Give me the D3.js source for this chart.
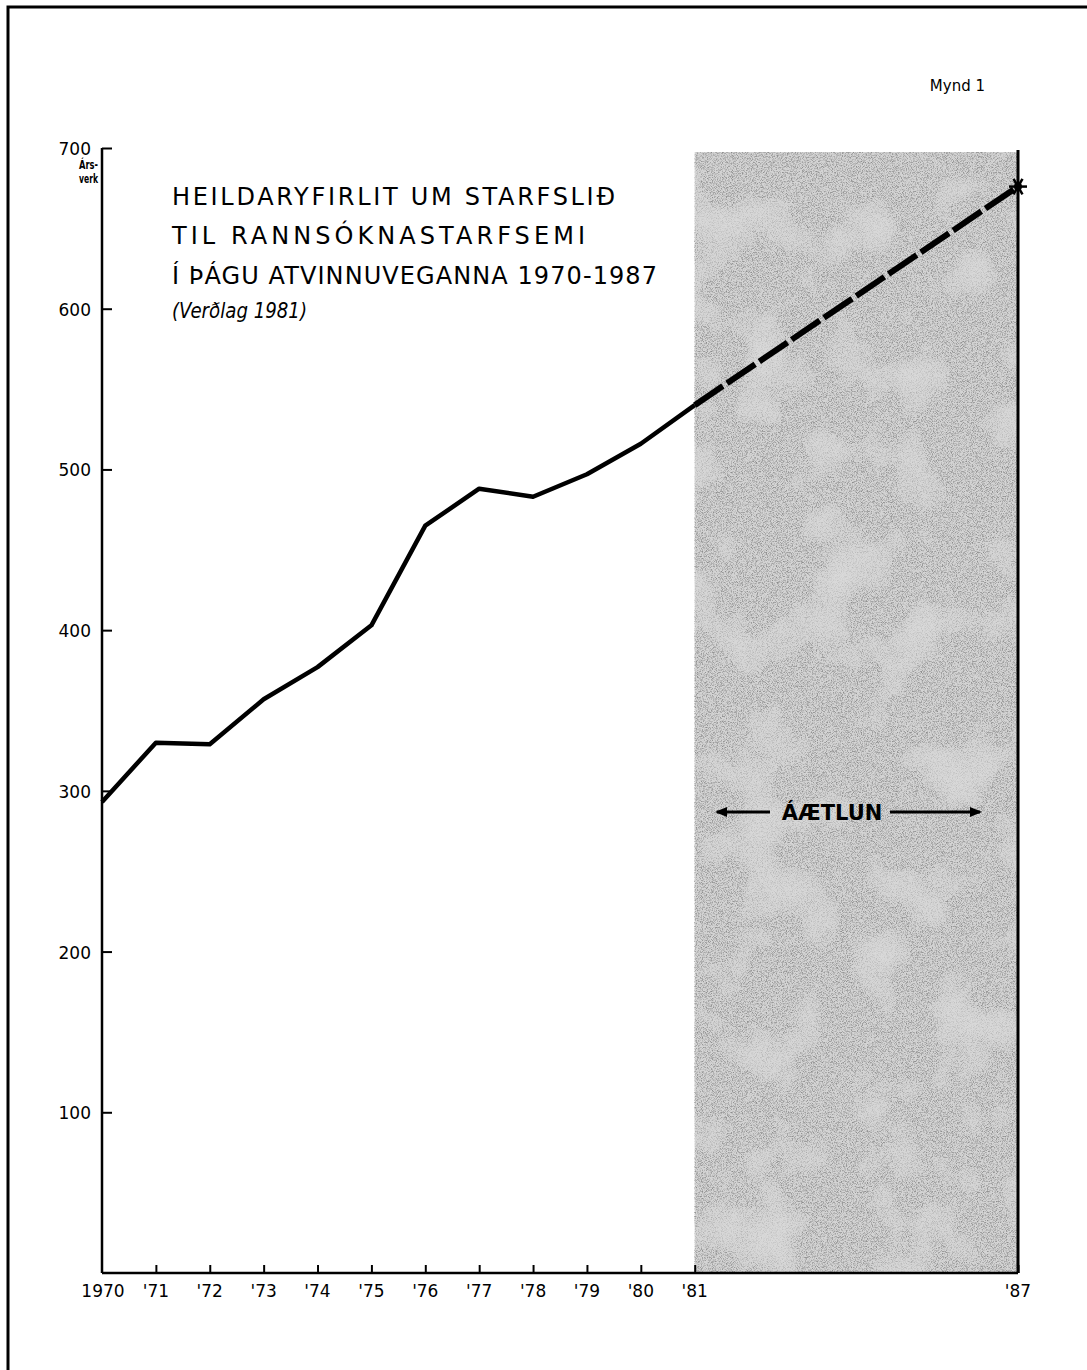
<!DOCTYPE html>
<html>
<head>
<meta charset="utf-8">
<script src="https://cdn.jsdelivr.net/npm/d3@7"></script>
<style>
  html, body { margin: 0; padding: 0; background: #fff; }
  svg { display: block; }
</style>
</head>
<body>
<svg id="chart" width="1087" height="1370"></svg>
<script>
// ---- data ----
const years = [1970, 1971, 1972, 1973, 1974, 1975, 1976, 1977, 1978, 1979, 1980, 1981];
const values = [293, 330, 329, 357, 377, 403, 465, 488, 483, 497, 516, 540];
const planYears = [1981, 1987];
const planValues = [540, 676];
const yTicks = [100, 200, 300, 400, 500, 600, 700];
const xTickYears = [1970, 1971, 1972, 1973, 1974, 1975, 1976, 1977, 1978, 1979, 1980, 1981, 1987];
const xTickLabels = ["1970", "'71", "'72", "'73", "'74", "'75", "'76", "'77", "'78", "'79", "'80", "'81", "'87"];
const titleLines = ["HEILDARYFIRLIT UM STARFSLIÐ", "TIL RANNSÓKNASTARFSEMI", "Í ÞÁGU ATVINNUVEGANNA 1970-1987"];
const subTitle = "(Verðlag 1981)";
const planLabel = "ÁÆTLUN";
const yUnit = ["Árs-", "verk"];
const figLabel = "Mynd 1";

const svg = d3.select("#chart");
const font = "'DejaVu Sans', sans-serif";

const x = d3.scaleLinear().domain([1970, 1987]).range([102, 1018]);
const y = d3.scaleLinear().domain([0, 700]).range([1273, 148]);

// defs: texture
const defs = svg.append("defs");
const f = defs.append("filter").attr("id", "grain").attr("x", 0).attr("y", 0).attr("width", 1).attr("height", 1);
f.append("feTurbulence").attr("type", "fractalNoise").attr("baseFrequency", "1.2").attr("numOctaves", 1).attr("seed", 3).attr("result", "fine");
f.append("feColorMatrix").attr("in", "fine").attr("type", "matrix")
  .attr("values", "0 0 0 0 0  0 0 0 0 0  0 0 0 0 0  0 0 0 -3 1.7").attr("result", "fineA");
f.append("feTurbulence").attr("type", "fractalNoise").attr("baseFrequency", "0.015").attr("numOctaves", 3).attr("seed", 7).attr("result", "coarse");
f.append("feColorMatrix").attr("in", "coarse").attr("type", "matrix")
  .attr("values", "0 0 0 0 1  0 0 0 0 1  0 0 0 0 1  0 0 0 -1.2 0.55").attr("result", "coarseA");
const fm = f.append("feMerge");
fm.append("feMergeNode").attr("in", "fineA");
fm.append("feMergeNode").attr("in", "coarseA");

// frame
svg.append("path").attr("d", "M8,1370 L8,7 L1087,7").attr("fill", "none").attr("stroke", "#000").attr("stroke-width", 3);

// shaded plan region
const shadeTop = 152;
svg.append("rect")
  .attr("x", x(1981)).attr("y", shadeTop)
  .attr("width", x(1987) - x(1981)).attr("height", y(0) - shadeTop)
  .attr("fill", "#d4d4d4");
svg.append("rect")
  .attr("x", x(1981)).attr("y", shadeTop)
  .attr("width", x(1987) - x(1981)).attr("height", y(0) - shadeTop)
  .attr("fill", "#000").attr("opacity", 0.33)
  .attr("filter", "url(#grain)");

// right edge line of plan region
svg.append("line")
  .attr("x1", x(1987)).attr("x2", x(1987)).attr("y1", 150).attr("y2", y(0))
  .attr("stroke", "#000").attr("stroke-width", 3);

// axes
const yAxis = d3.axisRight(y).tickValues(yTicks).tickSize(10).tickFormat("");
const gy = svg.append("g").attr("transform", `translate(${x(1970)},0)`).call(yAxis);
gy.select(".domain").remove();
gy.selectAll("line").attr("stroke", "#000").attr("stroke-width", 2);
svg.append("line").attr("x1", x(1970)).attr("x2", x(1970)).attr("y1", y(700)).attr("y2", y(0))
  .attr("stroke", "#000").attr("stroke-width", 2.5);

svg.selectAll(".ylab").data(yTicks).join("text")
  .attr("class", "ylab")
  .attr("x", 91).attr("y", d => y(d) + 7)
  .attr("text-anchor", "end")
  .attr("font-family", font).attr("font-size", 17)
  .text(d => d);

const xAxis = d3.axisTop(x).tickValues(xTickYears.slice(1)).tickSize(8).tickFormat("");
const gx = svg.append("g").attr("transform", `translate(0,${y(0)})`).call(xAxis);
gx.select(".domain").remove();
gx.selectAll("line").attr("stroke", "#000").attr("stroke-width", 2);
svg.append("line").attr("x1", x(1970)).attr("x2", x(1987)).attr("y1", y(0)).attr("y2", y(0))
  .attr("stroke", "#000").attr("stroke-width", 2.5);

svg.selectAll(".xlab").data(xTickYears).join("text")
  .attr("class", "xlab")
  .attr("x", (d, i) => x(d) + (i === 0 ? 1 : 0)).attr("y", 1297)
  .attr("text-anchor", "middle")
  .attr("font-family", font).attr("font-size", 17)
  .text((d, i) => xTickLabels[i]);

// y unit
svg.selectAll(".unit").data(yUnit).join("text")
  .attr("class", "unit")
  .attr("x", 79).attr("y", (d, i) => 169 + i * 14)
  .attr("font-family", font).attr("font-size", 13).attr("font-weight", "bold")
  .attr("textLength", 19).attr("lengthAdjust", "spacingAndGlyphs")
  .text(d => d);

// lines
const line = d3.line().x(d => x(d[0])).y(d => y(d[1]));
svg.append("path")
  .datum(years.map((yr, i) => [yr, values[i]]))
  .attr("d", line)
  .attr("fill", "none").attr("stroke", "#000").attr("stroke-width", 4.5)
  .attr("stroke-linejoin", "round");

svg.append("path")
  .datum(planYears.map((yr, i) => [yr, planValues[i]]))
  .attr("d", line)
  .attr("fill", "none").attr("stroke", "#000").attr("stroke-width", 6)
  .attr("stroke-dasharray", "34,5");

// asterisk at end
const ex = x(1987), ey = y(planValues[1]);
const star = svg.append("g").attr("transform", `translate(${ex},${ey})`);
d3.range(6).forEach(k => {
  const a = k * Math.PI / 3;
  star.append("line").attr("x1", 0).attr("y1", 0)
    .attr("x2", 9 * Math.cos(a)).attr("y2", 9 * Math.sin(a))
    .attr("stroke", "#000").attr("stroke-width", 2.5);
});
star.append("circle").attr("r", 4).attr("fill", "#000");

// plan label with arrows
const labY = 812;
const lx1 = 717, lx2 = 980, tx1 = 770, tx2 = 890;
svg.append("line").attr("x1", lx1).attr("x2", tx1).attr("y1", labY).attr("y2", labY).attr("stroke", "#000").attr("stroke-width", 3);
svg.append("line").attr("x1", tx2).attr("x2", lx2).attr("y1", labY).attr("y2", labY).attr("stroke", "#000").attr("stroke-width", 3);
svg.append("path").attr("d", `M${lx1 - 2},${labY} L${lx1 + 10},${labY - 5} L${lx1 + 10},${labY + 5} Z`).attr("fill", "#000");
svg.append("path").attr("d", `M${lx2 + 2},${labY} L${lx2 - 10},${labY - 5} L${lx2 - 10},${labY + 5} Z`).attr("fill", "#000");
svg.append("text").attr("x", (tx1 + tx2) / 2 + 2).attr("y", labY + 8)
  .attr("text-anchor", "middle")
  .attr("font-family", font).attr("font-size", 21).attr("font-weight", "bold")
  .text(planLabel);

// title
const titleX = 172;
const titleYs = [205, 244, 284];
const titleW = [443, 413, 485];
titleLines.forEach((t, i) => {
  svg.append("text").attr("x", titleX).attr("y", titleYs[i])
    .attr("font-family", font).attr("font-size", 24)
    .attr("textLength", titleW[i]).attr("lengthAdjust", "spacing")
    .text(t);
});
svg.append("text").attr("x", titleX).attr("y", 318)
  .attr("font-family", font).attr("font-size", 21).attr("font-style", "italic")
  .attr("textLength", 135).attr("lengthAdjust", "spacingAndGlyphs")
  .text(subTitle);

// figure label
svg.append("text").attr("x", 985).attr("y", 91)
  .attr("text-anchor", "end")
  .attr("font-family", font).attr("font-size", 15)
  .text(figLabel);
</script>
</body>
</html>
